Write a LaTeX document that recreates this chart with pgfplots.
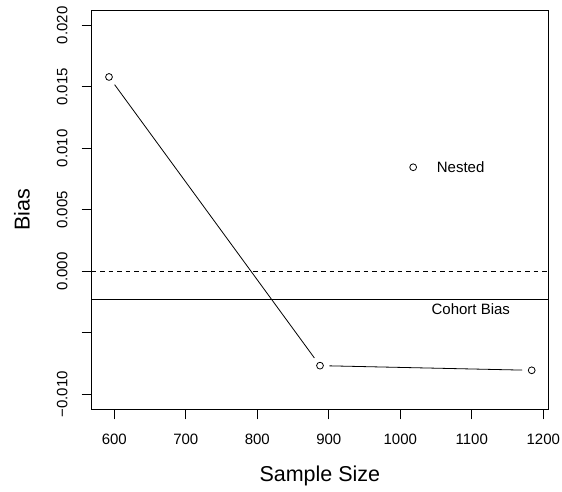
\documentclass[border=0pt]{standalone}
\usepackage{fontspec}
\setmainfont{Liberation Sans}
\usepackage{pgfplots}
\pgfplotsset{compat=1.18}
\usetikzlibrary{calc}
\newcommand{\tickfont}{\fontsize{15bp}{18bp}\selectfont}
\newcommand{\labfont}{\fontsize{21.5bp}{25bp}\selectfont}

\begin{document}
\begin{tikzpicture}
\begin{axis}[
    scale only axis, width=456.3bp, height=399bp,
    xmin=568.4, xmax=1206.6, ymin=-0.01122, ymax=0.02122,
    scaled y ticks=false, scaled x ticks=false,
    axis line style={line width=0.8bp},
    tick style={black, line width=0.8bp},
    tick align=outside, major tick length=10bp,
    xtick pos=bottom, ytick pos=left,
    xtick={600,700,800,900,1000,1100,1200},
    xticklabels={600,700,800,900,1000,1100,1200},
    ytick={-0.01,-0.005,0,0.005,0.01,0.015,0.02},
    yticklabels={−0.010,,0.000,0.005,0.010,0.015,0.020},
    xticklabel style={font=\tickfont, anchor=north, inner sep=0pt, yshift=-15bp},
    yticklabel style={font=\tickfont, rotate=90, anchor=south, inner sep=0pt, yshift=14bp},
    xlabel={Sample Size}, ylabel={Bias},
    xlabel style={font=\labfont, at={(axis description cs:0.5,-0.167)}, anchor=center},
    ylabel style={font=\labfont, at={(axis description cs:-0.1527,0.5)}, anchor=center, rotate=0},
    clip=false,
]
% reference lines
\addplot[black, line width=0.8bp, dash pattern=on 4.5bp off 4bp]
    coordinates {(568.4,0)(1206.6,0)};
\addplot[black, line width=0.8bp]
    coordinates {(568.4,-0.00225)(1206.6,-0.00225)};
% nested estimates, R type "b"
\addplot[black, line width=0.8bp, shorten <=9.5bp, shorten >=9.5bp]
    coordinates {(592.6,0.0158)(887.7,-0.00767)};
\addplot[black, line width=0.8bp, shorten <=9.5bp, shorten >=9.5bp]
    coordinates {(887.7,-0.00767)(1183.8,-0.00805)};
\addplot[only marks, mark=o, mark size=3.4bp, mark options={line width=0.8bp, black}]
    coordinates {(592.6,0.0158)(887.7,-0.00767)(1183.8,-0.00805)};
% legend
\addplot[only marks, mark=o, mark size=3.4bp, mark options={line width=0.8bp, black}]
    coordinates {(1018,0.00846)};
\node[font=\tickfont, anchor=west, inner sep=0pt] at (axis cs:1050.9,0.00846) {Nested};
\node[font=\tickfont, inner sep=0pt] at (axis cs:1098.6,-0.00307) {Cohort Bias};
\end{axis}
\path ($(current axis.south west)+(-91.7bp,-82.7bp)$) rectangle ($(current axis.north east)+(14bp,10.3bp)$);
\end{tikzpicture}
\end{document}
